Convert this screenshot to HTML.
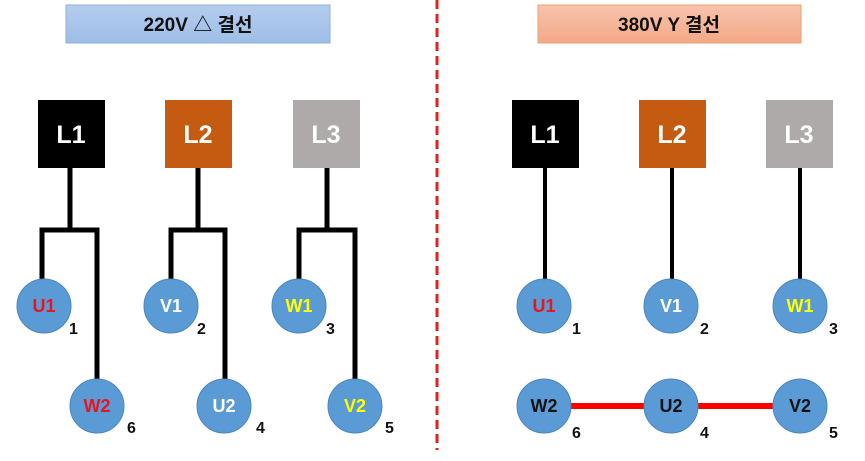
<!DOCTYPE html>
<html><head><meta charset="utf-8"><style>
html,body{margin:0;padding:0;background:#fff;}
svg{display:block;}
text{font-family:"Liberation Sans","Noto Sans CJK KR",sans-serif;font-weight:bold;}
</style></head><body>
<svg width="865" height="461" viewBox="0 0 865 461" xmlns="http://www.w3.org/2000/svg">
<defs>
<linearGradient id="gb" x1="0" y1="0" x2="0" y2="1"><stop offset="0" stop-color="#b5cdee"/><stop offset="1" stop-color="#9dbde6"/></linearGradient>
<linearGradient id="go" x1="0" y1="0" x2="0" y2="1"><stop offset="0" stop-color="#f8c3ad"/><stop offset="1" stop-color="#f2a987"/></linearGradient>
</defs>
<rect x="66" y="5" width="264" height="38" fill="url(#gb)" stroke="#8fb1dc" stroke-width="1"/>
<text x="198" y="31" font-size="19" text-anchor="middle" fill="#111">220V △ 결선</text>
<rect x="538" y="5" width="263" height="38" fill="url(#go)" stroke="#ef9d74" stroke-width="1"/>
<text x="669" y="31" font-size="19" text-anchor="middle" fill="#111">380V Y 결선</text>
<line x1="437" y1="0" x2="437" y2="450" stroke="#e52020" stroke-width="3" stroke-dasharray="9,5"/>
<g stroke="#000" stroke-width="5" fill="none" stroke-linejoin="miter">
<path d="M70 168 V230 M42 285 V230 H97 V385"/>
<path d="M198 168 V230 M171 285 V230 H225 V385"/>
<path d="M327 168 V230 M299 285 V230 H355 V385"/>
<path d="M545 168 V285 M672 168 V285 M800 168 V285" stroke-width="4"/>
</g>
<line x1="544" y1="406" x2="800" y2="406" stroke="#ff0000" stroke-width="6"/>
<rect x="38" y="100" width="67" height="68" fill="#000"/>
<rect x="165" y="100" width="67" height="68" fill="#c55a11"/>
<rect x="293" y="100" width="67" height="68" fill="#aeaaaa"/>
<rect x="512" y="100" width="67" height="68" fill="#000"/>
<rect x="639" y="100" width="67" height="68" fill="#c55a11"/>
<rect x="766" y="100" width="67" height="68" fill="#aeaaaa"/>
<g font-size="25" fill="#fff" text-anchor="middle">
<text x="71" y="143">L1</text><text x="198" y="143">L2</text><text x="326" y="143">L3</text>
<text x="545" y="143">L1</text><text x="672" y="143">L2</text><text x="799" y="143">L3</text>
</g>
<g fill="#5b9bd5" stroke="#4a86c0" stroke-width="1">
<circle cx="44" cy="306" r="27"/><circle cx="171" cy="306" r="27"/><circle cx="299" cy="306" r="27"/>
<circle cx="97" cy="406" r="27"/><circle cx="224" cy="406" r="27"/><circle cx="355" cy="406" r="27"/>
<circle cx="544" cy="306" r="27"/><circle cx="671" cy="306" r="27"/><circle cx="800" cy="306" r="27"/>
<circle cx="544" cy="406" r="27"/><circle cx="671" cy="406" r="27"/><circle cx="800" cy="406" r="27"/>
</g>
<g font-size="18" text-anchor="middle">
<text x="44" y="312" fill="#e8141e">U1</text><text x="171" y="312" fill="#fff">V1</text><text x="299" y="312" fill="#ffff00">W1</text>
<text x="97" y="412" fill="#e8141e">W2</text><text x="224" y="412" fill="#fff">U2</text><text x="355" y="412" fill="#ffff00">V2</text>
<text x="544" y="312" fill="#e8141e">U1</text><text x="671" y="312" fill="#fff">V1</text><text x="800" y="312" fill="#ffff00">W1</text>
<text x="544" y="412" fill="#111">W2</text><text x="671" y="412" fill="#111">U2</text><text x="800" y="412" fill="#111">V2</text>
</g>
<g font-size="16" fill="#111" style="font-weight:normal">
<text x="69" y="334" font-weight="normal">1</text><text x="197" y="334" font-weight="normal">2</text><text x="326" y="334" font-weight="normal">3</text>
<text x="127" y="433" font-weight="normal">6</text><text x="256" y="433" font-weight="normal">4</text><text x="385" y="433" font-weight="normal">5</text>
<text x="572" y="334" font-weight="normal">1</text><text x="700" y="334" font-weight="normal">2</text><text x="829" y="334" font-weight="normal">3</text>
<text x="572" y="438" font-weight="normal">6</text><text x="700" y="438" font-weight="normal">4</text><text x="829" y="438" font-weight="normal">5</text>
</g>
</svg>
</body></html>
